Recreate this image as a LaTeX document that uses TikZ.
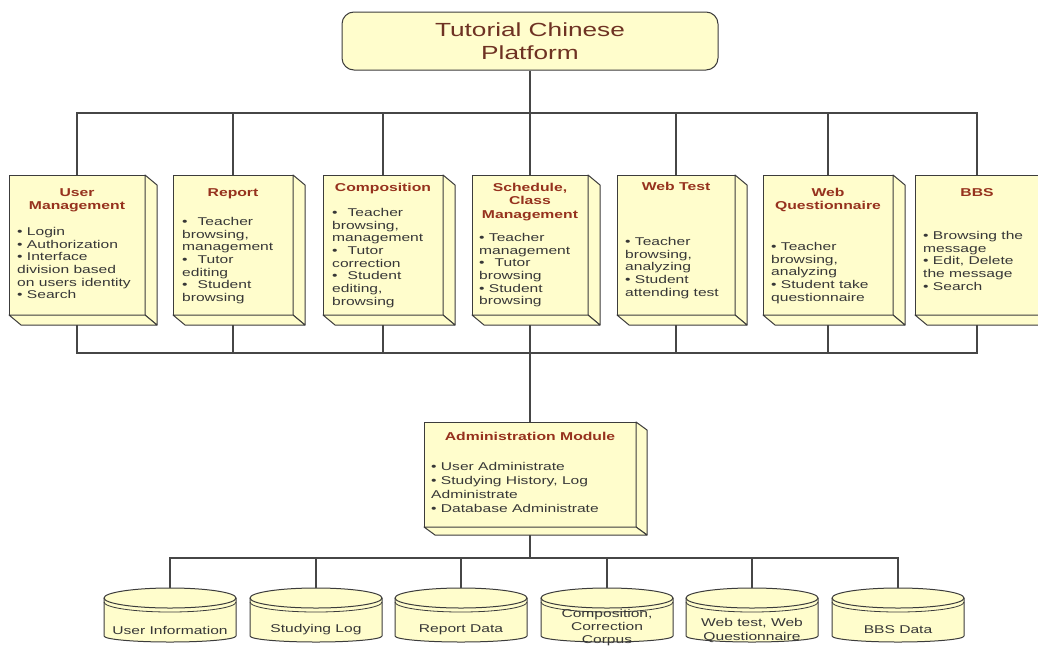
\documentclass[tikz,border=0pt]{standalone}
\usepackage{fontspec}
\setmainfont[FakeStretch=1.38]{Liberation Sans}
\definecolor{boxfill}{RGB}{255,253,204}
\definecolor{ttl}{RGB}{150,50,30}
\definecolor{bigttl}{RGB}{110,50,35}
\definecolor{txt}{RGB}{55,55,55}
\definecolor{edge}{RGB}{60,60,60}
\definecolor{wire}{RGB}{70,70,70}
\newcommand\bul{•\ }
\newcommand\bulw{•\hspace{10pt}}
\tikzset{
  cubefront/.style={draw=edge, fill=boxfill, line width=1pt, inner sep=0pt, outer sep=0pt},
  cubeside/.style={draw=edge, fill=boxfill, line width=1pt, line join=round},
  boxtitle/.style={font=\fontsize{11.4}{13.5}\selectfont\bfseries, text=ttl, align=center, anchor=north, inner sep=0pt},
  boxbody/.style={font=\fontsize{11.3}{12.7}\selectfont, text=txt, align=left, anchor=north west, inner sep=0pt},
  dbtext/.style={font=\fontsize{11.3}{13.5}\selectfont, text=txt, align=center, inner sep=0pt},
  dbshape/.style={draw=edge, fill=boxfill, line width=1pt},
  conn/.style={draw=wire, line width=1.3pt},
  titlebox/.style={draw=edge, fill=boxfill, line width=1pt, rounded corners=12pt, minimum width=376pt, minimum height=58pt, inner sep=0pt, align=center, text=bigttl, font=\fontsize{19}{23}\selectfont}
}
\newcommand\cubebox[7]{%
  \node[cubefront, minimum width=#4pt, minimum height=#5pt, anchor=north west] (#1) at (#2,#3) {};
  \path[cubeside] (#1.north east) -- ++(#6,#7) -- ([shift={(#6,#7)}]#1.south east) -- (#1.south east) -- cycle;
  \path[cubeside] (#1.south west) -- ++(#6,#7) -- ([shift={(#6,#7)}]#1.south east) -- (#1.south east) -- cycle;
}
\newcommand\dbcyl[2]{% name, center x
  \begin{scope}[shift={(#2,0)}]
    \path[dbshape] (-66,598) -- (-66,636) arc[start angle=180, end angle=360, x radius=66pt, y radius=6pt]
      -- (66,598) arc[start angle=0, end angle=180, x radius=66pt, y radius=10pt] -- cycle;
    \draw[edge, line width=1pt] (-66,598) arc[start angle=180, end angle=360, x radius=66pt, y radius=10pt];
    \draw[edge, line width=0.8pt] (-66,602) arc[start angle=180, end angle=360, x radius=66pt, y radius=10pt];
  \end{scope}
  \coordinate (#1) at (#2,588);
}
\begin{document}
\begin{tikzpicture}[x=1pt, y=-1pt]
\useasboundingbox (0,0) rectangle (1038,648);
\fill[white] (0,0) rectangle (1038,648);

% top
\node[titlebox] (title) at (530,41) {Tutorial Chinese\\Platform};

% module boxes
\cubebox{um}{9}{175}{136}{140}{12}{10}
\cubebox{rep}{173}{175}{120}{140}{12}{10}
\cubebox{comp}{323}{175}{120}{140}{12}{10}
\cubebox{sch}{472}{175}{116}{140}{12}{10}
\cubebox{wt}{617}{175}{118}{140}{12}{10}
\cubebox{wq}{763}{175}{130}{140}{12}{10}
\cubebox{bbs}{915}{175}{124}{140}{12}{10}
\cubebox{adm}{424}{422}{212}{105}{11}{8}

\node[boxtitle] (um-t) at (77,188) {User\\Management};
\node[boxbody] (um-b) at (17,227) {\bul Login\\\bul Authorization\\\bul Interface\\division based\\on users identity\\\bul Search};

\node[boxtitle] (rep-t) at (233,188) {Report};
\node[boxbody] (rep-b) at (182,217) {\bulw Teacher\\browsing,\\management\\\bulw Tutor\\editing\\\bulw Student\\browsing};

\node[boxtitle] (comp-t) at (383,183) {Composition};
\node[boxbody] (comp-b) at (332,208) {\bulw Teacher\\browsing,\\management\\\bulw Tutor\\correction\\\bulw Student\\editing,\\browsing};

\node[boxtitle] (sch-t) at (530,183) {Schedule,\\Class\\Management};
\node[boxbody] (sch-b) at (479,233) {\bul Teacher\\management\\\bulw Tutor\\browsing\\\bul Student\\browsing};

\node[boxtitle] (wt-t) at (676,182) {Web Test};
\node[boxbody] (wt-b) at (625,237) {\bul Teacher\\browsing,\\analyzing\\\bul Student\\attending test};

\node[boxtitle] (wq-t) at (828,188) {Web\\Questionnaire};
\node[boxbody] (wq-b) at (771,242) {\bul Teacher\\browsing,\\analyzing\\\bul Student take\\questionnaire};

\node[boxtitle] (bbs-t) at (977,188) {BBS};
\node[boxbody] (bbs-b) at (923,231) {\bul Browsing the\\message\\\bul Edit, Delete\\the message\\\bul Search};

\node[boxtitle] (adm-t) at (530,432) {Administration Module};
\node[boxbody, font=\fontsize{11.3}{14}\selectfont] (adm-b) at (431,462) {\bul User Administrate\\\bul Studying History, Log\\Administrate\\\bul Database Administrate};

% databases
\dbcyl{d1}{170}
\dbcyl{d2}{316}
\dbcyl{d3}{461}
\dbcyl{d4}{607}
\dbcyl{d5}{752}
\dbcyl{d6}{898}
\node[dbtext] (db1) at (170,630) {User Information};
\node[dbtext] (db2) at (316,630) {Studying Log};
\node[dbtext] (db3) at (461,630) {Report Data};
\node[dbtext, font=\fontsize{11.3}{13}\selectfont] (db4) at (607,628) {Composition,\\Correction\\Corpus};
\node[dbtext] (db5) at (752,630.5) {Web test, Web\\Questionnaire};
\node[dbtext] (db6) at (898,630) {BBS Data};

% connectors
\coordinate (busT) at (530,113);
\coordinate (busM) at (530,353);
\coordinate (busB) at (530,558);
\draw[conn] (title.south) -- (busT);
\foreach \n in {um,rep,comp,sch,wt,wq,bbs} {
  \draw[conn] (\n.north) |- (busT);
  \draw[conn] ([yshift=-10pt]\n.south) |- (busM);
}
\draw[conn] (busM) -- (adm.north);
\draw[conn] ([yshift=-8pt]adm.south) -- (busB);
\foreach \i in {1,...,6} {
  \draw[conn] (d\i) |- (busB);
}
\end{tikzpicture}
\end{document}
